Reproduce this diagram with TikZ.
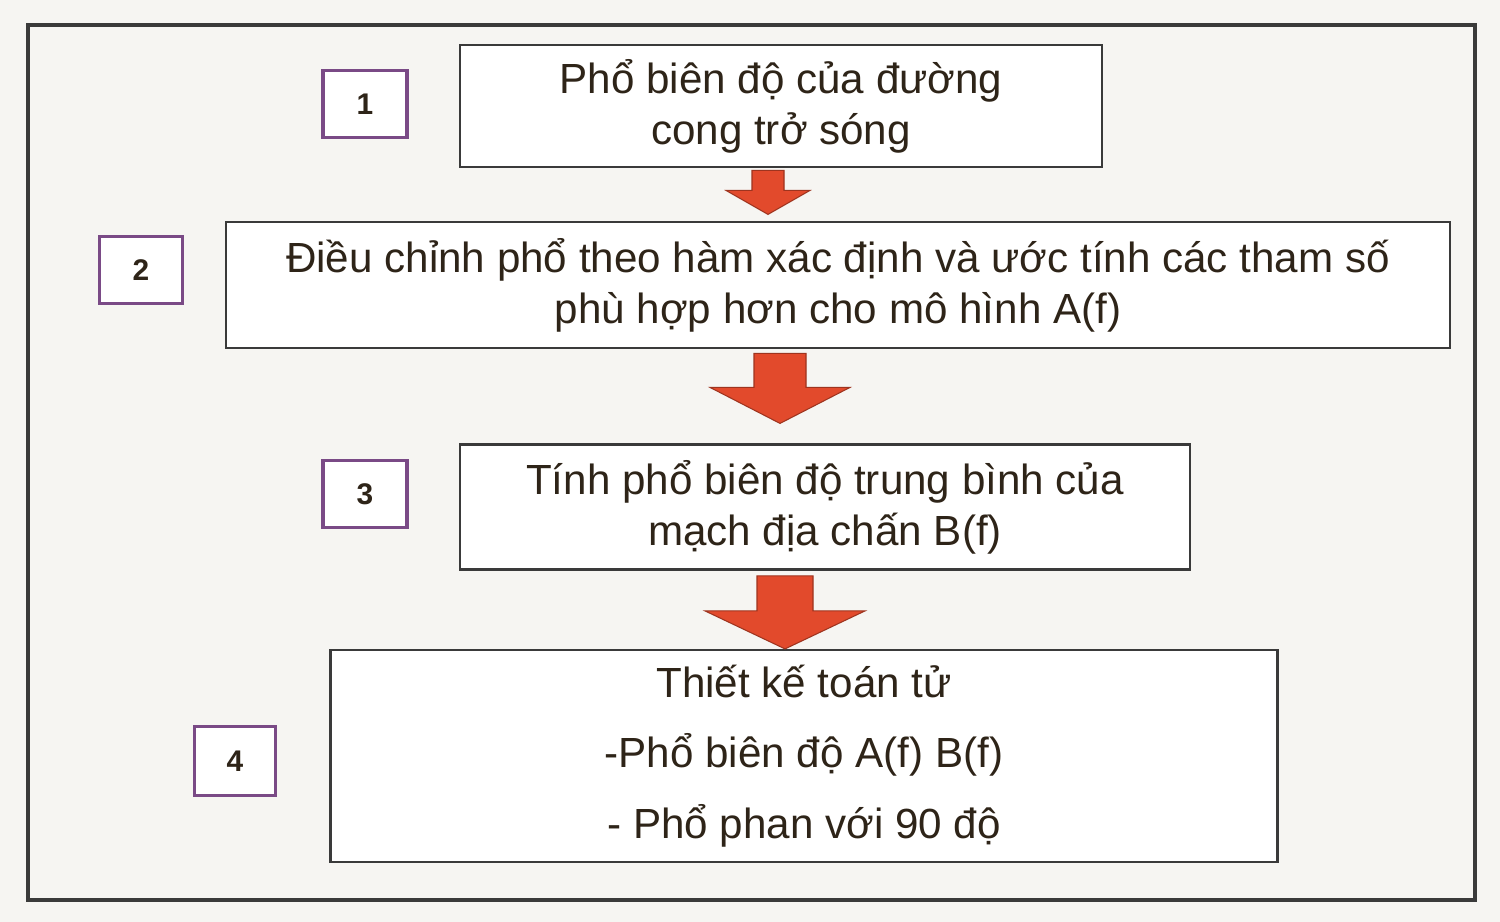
\documentclass[tikz,border=0pt]{standalone}
\usepackage{fontspec}
\setmainfont{Liberation Sans}
\usetikzlibrary{calc}
\definecolor{txt}{HTML}{2E2418}
\definecolor{frm}{HTML}{3A3A3A}
\definecolor{lab}{HTML}{7A4A86}
\definecolor{arr}{HTML}{E24A2C}
\definecolor{bg}{HTML}{F6F5F2}
\tikzset{
 stepbox/.style={draw=frm,line width=1.6pt,fill=white,text=txt,align=center,inner sep=0pt,font=\fontsize{24}{29}\selectfont},
 labbox/.style={draw=lab,line width=1.8pt,fill=white,text=txt,inner sep=0pt,font=\bfseries\fontsize{17}{20}\selectfont},
 blockarr/.style={fill=arr,draw=arr!70!black,line width=0.6pt}
}
\begin{document}
\begin{tikzpicture}[x=0.02cm,y=-0.02cm]
\fill[bg] (0,0) rectangle (1500,922);
\useasboundingbox (0,0) rectangle (1500,922);
\draw[frm,line width=2pt] (28,25) rectangle (1475,900);
\node[stepbox,minimum width=642*0.02cm,minimum height=122*0.02cm] (b1) at (781,106) {Phổ biên độ của đường\\cong trở sóng};
\node[stepbox,minimum width=1224*0.02cm,minimum height=126*0.02cm] (b2) at (838,285) {Điều chỉnh phổ theo hàm xác định và ước tính các tham số\\phù hợp hơn cho mô hình A(f)};
\node[stepbox,minimum width=730*0.02cm,minimum height=125*0.02cm] (b3) at (825,507) {Tính phổ biên độ trung bình của\\mạch địa chấn B(f)};
\node[stepbox,minimum width=947*0.02cm,minimum height=212*0.02cm,font=\fontsize{24}{40}\selectfont] (b4) at (804,756) {Thiết kế toán tử\\-Phổ biên độ A(f) B(f)\\- Phổ phan với 90 độ};
\node[labbox,minimum width=84*0.02cm,minimum height=67*0.02cm] (l1) at (365,104) {1};
\node[labbox,minimum width=83*0.02cm,minimum height=67*0.02cm] (l2) at (141,270) {2};
\node[labbox,minimum width=84*0.02cm,minimum height=67*0.02cm] (l3) at (365,494) {3};
\node[labbox,minimum width=81*0.02cm,minimum height=69*0.02cm] (l4) at (235,761) {4};
% arrows
\coordinate (a1) at ($(b1.south)+(-13,0)$);
\coordinate (a2) at ($(b2.south)+(-58,0)$);
\coordinate (a3) at ($(b3.south)+(-40,0)$);
\draw[blockarr] ($(a1)+(-16,2)$) -- ($(a1)+(16,2)$) -- ($(a1)+(16,22)$) -- ($(a1)+(42,22)$) -- ($(a1)+(0,46)$) -- ($(a1)+(-42,22)$) -- ($(a1)+(-16,22)$) -- cycle;
\draw[blockarr] ($(a2)+(-26,4)$) -- ($(a2)+(26,4)$) -- ($(a2)+(26,38)$) -- ($(a2)+(70,38)$) -- ($(a2)+(0,74)$) -- ($(a2)+(-70,38)$) -- ($(a2)+(-26,38)$) -- cycle;
\draw[blockarr] ($(a3)+(-28,5)$) -- ($(a3)+(28,5)$) -- ($(a3)+(28,40)$) -- ($(a3)+(80,40)$) -- ($(a3)+(0,78)$) -- ($(a3)+(-80,40)$) -- ($(a3)+(-28,40)$) -- cycle;
\end{tikzpicture}
\end{document}
